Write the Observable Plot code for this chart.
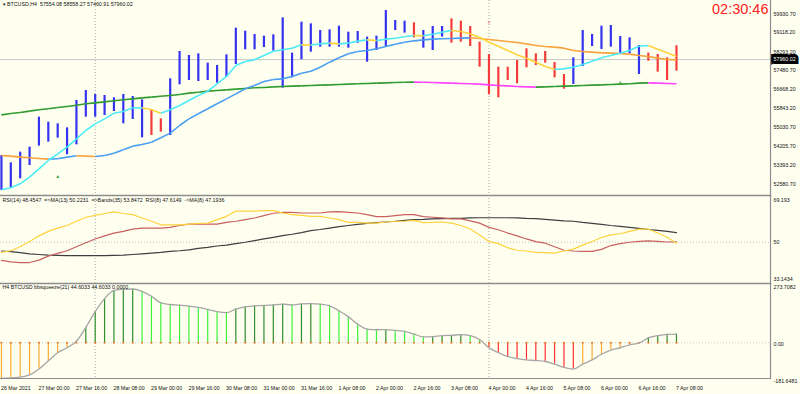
<!DOCTYPE html>
<html><head><meta charset="utf-8">
<script src="https://cdn.jsdelivr.net/npm/d3@7"></script>
<script src="https://cdn.jsdelivr.net/npm/@observablehq/plot@0.6"></script>
<style>
html,body{margin:0;padding:0;background:#FFFFF0;}
#chart{position:relative;width:800px;height:394px;overflow:hidden;background:#FFFFF0;}
#chart > div{position:absolute;left:0;}
svg{overflow:visible;}
</style></head><body>
<div id="chart"><div id="p1" style="top:0px"></div><div id="p2" style="top:195px"></div><div id="p3" style="top:283px"></div></div>
<script>
// ---------- DATA ----------
const xLabels = ["26 Mar 2021","27 Mar 00:00","27 Mar 16:00","28 Mar 08:00","29 Mar 00:00","29 Mar 16:00","30 Mar 08:00","31 Mar 00:00","31 Mar 16:00","1 Apr 08:00","2 Apr 00:00","2 Apr 16:00","3 Apr 08:00","4 Apr 00:00","4 Apr 16:00","5 Apr 08:00","6 Apr 00:00","6 Apr 16:00","7 Apr 08:00"];
const separators = [10, 52];
const highs = [53812,53495,53956,54172,55470,55253,55181,55008,56190,56623,56450,56407,56306,56450,56364,56219,55787,55398,57127,58309,58136,58208,57805,57704,58165,59318,59188,59044,58972,59030,59765,58237,59577,59505,59217,59246,59404,59145,59174,58929,58972,60082,59649,59620,59549,59217,59390,59390,59721,59620,59390,58712,58179,57631,57631,57920,58424,58208,58309,57834,57315,58035,59217,59044,59404,59433,58958,58900,58569,58237,58179,58035,58558.27];
const lows = [52299,52414,52803,53380,54216,54388,54561,53841,54273,55470,55470,55542,55715,55181,55369,54576,54677,54821,54677,56868,57055,57012,57055,56940,57199,57747,58381,58381,58482,58324,56724,57170,57949,58280,58496,58496,58496,58453,58669,57848,58352,58525,59217,59102,58900,58453,58352,58929,58669,58712,58525,57631,56435,56306,57055,56911,57603,57704,57805,57170,56680,56882,57661,58525,58396,58496,58208,58208,57315,57891,57416,57055,57460.91];
const barDir = "uuuuuuuuuuuuuuuudduuuuuuuuuuuuuuuuuuuuuuuuuuduuuddddddddddddduuuuuuuuddd".split("");
const fastMA = [52328,52414,52587,52875,53235,53596,53884,54172,54533,54893,55181,55397,55642,55714,55873,55873,55787,55642,55787,55974,56190,56406,56594,56911,57228,57703,57876,57948,58136,58323,58381,58453,58597,58590,58640,58669,58640,58669,58756,58813,58784,58842,58885,58943,59001,58986,59058,59145,59217,59174,59073,58929,58712,58539,58352,58165,58021,57848,57660,57531,57559,57631,57747,57891,58035,58136,58237,58352,58539,58568,58410,58251,58093];
const midMA = [53812,53783,53740,53711,53682,53653,53668,53740,53798,53783,53769,53812,53913,54057,54216,54288,54388,54576,54778,55109,55397,55614,55830,56046,56262,56478,56695,56839,57012,57098,57127,57228,57372,57458,57631,57848,58035,58208,58309,58352,58424,58525,58626,58712,58770,58813,58842,58857,58871,58885,58900,58871,58828,58784,58741,58698,58640,58568,58525,58496,58453,58352,58309,58280,58251,58237,58222,58194,58136,58093,58021,57963,57948];
const slowMA = [55570,55628,55671,55729,55787,55830,55887,55931,55988,56046,56089,56132,56176,56219,56262,56305,56334,56377,56406,56450,56507,56550,56594,56622,56651,56680,56709,56738,56752,56781,56795,56810,56824,56839,56853,56867,56882,56896,56911,56925,56940,56954,56968,56978,56985,56980,56968,56954,56940,56925,56911,56896,56867,56839,56824,56795,56781,56767,56781,56795,56810,56824,56839,56853,56867,56882,56896,56911,56940,56954,56940,56925,56911];
const upArrows = [{i: 6, p: 52904}, {i: 66, p: 56981}];
const downArrows = [{i: 52, p: 59576}];
const priceTicks = [59930.70,59118.20,58293.20,57480.70,56668.20,55843.20,55030.70,54205.70,53393.20,52580.70];
const lastClose = 57960.02;
const priceHeader = "\u25BE BTCUSD,H4  57554.08 58558.27 57460.91 57960.02";
const timerText = "02:30:46";

const rsiYellow = [45.7,46.4,48.1,50.3,52.7,54.6,56.0,57.1,58.9,60.6,61.4,62.2,62.9,62.2,61.7,60.3,58.9,57.4,57.4,57.4,57.7,58.0,58.1,59.6,61.0,63.2,63.2,63.2,63.4,63.4,62.4,61.7,61.4,61.0,61.0,60.3,59.6,58.4,58.4,58.1,58.1,58.6,58.9,58.9,59.3,58.3,58.4,58.6,58.1,57.1,55.6,53.1,50.3,49.4,47.7,46.6,46.3,45.7,45.6,45.4,46.3,47.1,48.8,50.3,52.0,53.1,53.6,54.6,55.6,55.6,53.9,52.1,49.6];
const rsiBrown = [42.3,41.7,41.4,41.4,42.4,44.1,45.3,46.4,48.1,49.8,51.4,52.7,53.9,54.6,55.6,56.0,56.0,56.0,56.3,57.1,57.7,57.7,57.7,57.7,58.4,58.9,59.6,60.3,61.3,62.3,62.7,62.7,62.4,62.4,62.4,62.9,63.0,62.7,62.4,61.7,60.9,60.9,61.3,61.7,61.7,60.9,60.6,60.3,59.9,59.9,59.1,58.1,56.3,55.3,53.9,52.7,51.4,50.3,49.6,48.1,46.6,46.3,46.1,46.1,47.0,48.6,49.4,50.0,50.4,50.6,50.4,50.1,50.2];
const rsiBands = [46.3,46.0,45.6,45.1,44.8,44.5,44.4,44.3,44.3,44.3,44.3,44.3,44.4,44.5,44.8,45.1,45.4,45.7,46.1,46.4,46.8,47.4,47.8,48.4,48.8,49.4,50.0,50.7,51.4,52.1,52.8,53.4,54.1,54.9,55.4,56.0,56.6,57.1,57.6,58.0,58.3,58.6,58.9,59.3,59.6,59.7,59.9,60.0,60.1,60.1,60.3,60.4,60.4,60.4,60.4,60.3,60.1,60.0,59.7,59.4,59.1,58.9,58.4,58.0,57.6,57.1,56.7,56.3,55.9,55.4,55.0,54.6,54.1];
const rsiMin = 33.1434, rsiMax = 69.193, rsiMid = 50;
const rsiHeader = "RSI(14) 48.4547  =>MA(13) 50.2231  =>Bands(35) 53.8472  RSI(8) 47.6149  ->MA(8) 47.1936";

const squeeze = [-181.6481,-178,-175,-163.6,-133.6,-91.9,-50.2,-25.2,8,78.1,158.1,224.8,266.5,272,273.7082,261.5,236.5,203.2,194.8,191.5,186.5,179.8,169.8,158.1,153.1,171.5,183.2,188.2,189.8,193.2,196.5,193.2,198.1,199.8,196.5,188.2,163.1,133.1,94.8,69.8,66.5,67.0,63.1,58.1,44.8,29.8,31.5,36.5,38.1,41.5,36.5,16.5,-25.2,-50.2,-70.2,-80.2,-86.9,-90.2,-95.2,-108.6,-125.2,-133.6,-108.6,-86.9,-58.5,-36.9,-25.2,-10,-2,24.8,36.5,43.1,44.6033];
const sqMin = -181.6481, sqMax = 273.7082;
const sqHeader = "H4 BTCUSD bbsqueeze(21) 44.6033 44.6033 0.0000";

// ---------- HELPERS ----------
const FONT = "'Liberation Sans', Arial, sans-serif";
const FS = 5.3;
const N = highs.length;
const idx = d3.range(N);
const xDomain = [-0.1, 82.03];
const labelIdx = xLabels.map((_, k) => k * 4);
const segs = (arr, up, down) => idx.slice(1).map(i => ({a: i - 1, b: i, va: arr[i - 1], vb: arr[i], k: arr[i] >= arr[i - 1] ? up : down}));
const baseStyle = {background: "transparent", fontFamily: FONT, fontSize: FS + "px", overflow: "visible", color: "#000"};
const sepMark = () => Plot.ruleX(separators, {x: d => d, stroke: "#A8A8A8", strokeDasharray: "1,2"});

// ---------- PANE 1: PRICE ----------
const p1 = Plot.plot({
  width: 800, height: 195, marginLeft: 0, marginRight: 30, marginTop: 0, marginBottom: 0,
  style: baseStyle,
  x: {domain: xDomain, axis: null},
  y: {domain: [52082, 60514], axis: null},
  color: {domain: ["bu","bd","fu","fd","mu","md","su","sd"], range: ["#3434F0","#F53C3C","#4DEAF7","#FFD23C","#4A9EF2","#F7A23C","#2F9B2F","#FF40FF"]},
  marks: [
    sepMark(),
    Plot.ruleY([lastClose], {stroke: "#C8C8C8"}),
    Plot.ruleX(idx, {x: i => i, y1: i => lows[i], y2: i => highs[i], stroke: i => barDir[i] === "u" ? "bu" : "bd", strokeWidth: 2.2}),
    Plot.link(segs(slowMA, "su", "sd"), {x1: "a", x2: "b", y1: "va", y2: "vb", stroke: "k", strokeWidth: 1.6}),
    Plot.link(segs(midMA, "mu", "md"), {x1: "a", x2: "b", y1: "va", y2: "vb", stroke: "k", strokeWidth: 1.6}),
    Plot.link(segs(fastMA, "fu", "fd"), {x1: "a", x2: "b", y1: "va", y2: "vb", stroke: "k", strokeWidth: 1.6}),
    Plot.text(upArrows, {x: "i", y: "p", text: () => "\u25B2", fill: "#3FA03F", fontSize: 5}),
    Plot.text(downArrows, {x: "i", y: "p", text: () => "\u25BC", fill: "#F08A8A", fontSize: 5}),
    Plot.text(priceTicks, {y: d => d, text: d => d.toFixed(2), frameAnchor: "right", textAnchor: "start", dx: 3, fill: "#111", fontSize: FS}),
    Plot.text([lastClose], {y: d => d, text: d => d.toFixed(2), frameAnchor: "right", textAnchor: "start", dx: 3, fill: "#FFF", stroke: "#000", strokeWidth: 6, strokeLinejoin: "miter", paintOrder: "stroke", fontSize: FS}),
    Plot.text([priceHeader], {text: d => d, frameAnchor: "top-left", textAnchor: "start", lineAnchor: "top", dx: 2, dy: 2, fill: "#111", fontSize: FS}),
    Plot.text([timerText], {text: d => d, frameAnchor: "top-right", textAnchor: "end", lineAnchor: "top", dx: -2, dy: 3, fill: "#FF2020", fontSize: 14.5, letterSpacing: 0.3}),
    Plot.frame({anchor: "right", stroke: "#8C8C8C", strokeWidth: 1.2})
  ]
});
document.getElementById("p1").appendChild(p1);

// ---------- PANE 2: RSI ----------
const p2 = Plot.plot({
  width: 800, height: 88, marginLeft: 0, marginRight: 30, marginTop: 0, marginBottom: 0,
  style: baseStyle,
  x: {domain: xDomain, axis: null},
  y: {domain: [rsiMin, rsiMax], range: [86.5, 1.5], axis: null},
  marks: [
    sepMark(),
    Plot.ruleY([rsiMid], {stroke: "#BDBDBD", strokeDasharray: "1,2"}),
    Plot.line(idx, {x: i => i, y: i => rsiBands[i], stroke: "#3E3E3E", strokeWidth: 1.2}),
    Plot.line(idx, {x: i => i, y: i => rsiBrown[i], stroke: "#C86060", strokeWidth: 1.2}),
    Plot.line(idx, {x: i => i, y: i => rsiYellow[i], stroke: "#FFD23C", strokeWidth: 1.2}),
    Plot.text([rsiMax], {y: d => d, text: d => String(d), frameAnchor: "right", textAnchor: "start", dx: 3, dy: 3.2, fill: "#111", fontSize: FS}),
    Plot.text([rsiMid], {y: d => d, text: d => String(d), frameAnchor: "right", textAnchor: "start", dx: 3, dy: 0.5, fill: "#111", fontSize: FS}),
    Plot.text([rsiMin], {y: d => d, text: d => String(d), frameAnchor: "right", textAnchor: "start", dx: 3, dy: -3.2, fill: "#111", fontSize: FS}),
    Plot.text([rsiHeader], {text: d => d, frameAnchor: "top-left", textAnchor: "start", lineAnchor: "top", dx: 2, dy: 2.5, fill: "#111", fontSize: FS}),
    Plot.frame({anchor: "top", stroke: "#8C8C8C", strokeWidth: 1.5}),
    Plot.frame({anchor: "right", stroke: "#8C8C8C", strokeWidth: 1.2})
  ]
});
document.getElementById("p2").appendChild(p2);

// ---------- PANE 3: BB SQUEEZE ----------
const sqData = idx.map(i => ({i, v: squeeze[i], k: (i > 0 && squeeze[i] < squeeze[i - 1]) ? (squeeze[i] >= 0 ? "pd" : "nd") : (squeeze[i] >= 0 ? "pu" : "nu")}));
const p3 = Plot.plot({
  width: 800, height: 111, marginLeft: 0, marginRight: 30, marginTop: 0, marginBottom: 16,
  style: baseStyle,
  x: {domain: xDomain, axis: null},
  y: {domain: [sqMin, sqMax], range: [95, 5.5], axis: null},
  color: {domain: ["pu","pd","nu","nd"], range: ["#2E8F2E","#3CF03C","#FFAA33","#FF3030"]},
  marks: [
    sepMark(),
    Plot.ruleY([0], {stroke: "#D0D0D0", strokeDasharray: "1,2"}),
    Plot.ruleX(sqData, {x: "i", y1: 0, y2: "v", stroke: "k", strokeWidth: 1.2}),
    Plot.dot(idx, {x: i => i, y: 0, r: 1, fill: "#E8742A", stroke: null}),
    Plot.line(sqData, {x: "i", y: "v", stroke: "#A6A6A6", strokeWidth: 1.3, curve: "monotone-x"}),
    Plot.text([sqMax], {y: d => d, text: d => d.toFixed(4), frameAnchor: "right", textAnchor: "start", dx: 3, dy: -1.8, fill: "#111", fontSize: FS}),
    Plot.text([0], {y: d => d, text: d => d.toFixed(2), frameAnchor: "right", textAnchor: "start", dx: 3, dy: 1, fill: "#111", fontSize: FS}),
    Plot.text([sqMin], {y: d => d, text: d => d.toFixed(4), frameAnchor: "right", textAnchor: "start", dx: 3, dy: 2.3, fill: "#111", fontSize: FS}),
    Plot.text([sqHeader], {text: d => d, frameAnchor: "top-left", textAnchor: "start", lineAnchor: "top", dx: 2, dy: 2, fill: "#111", fontSize: FS}),
    Plot.text(labelIdx, {x: d => d, text: d => xLabels[d / 4], frameAnchor: "bottom", textAnchor: "start", lineAnchor: "middle", dx: -0.5, dy: 10, fill: "#111", fontSize: FS}),
    Plot.frame({anchor: "top", stroke: "#8C8C8C", strokeWidth: 1.5}),
    Plot.frame({anchor: "right", stroke: "#8C8C8C", strokeWidth: 1.2}),
    Plot.frame({anchor: "bottom", stroke: "#8C8C8C", strokeWidth: 1.2})
  ]
});
document.getElementById("p3").appendChild(p3);
</script>
</body></html>
